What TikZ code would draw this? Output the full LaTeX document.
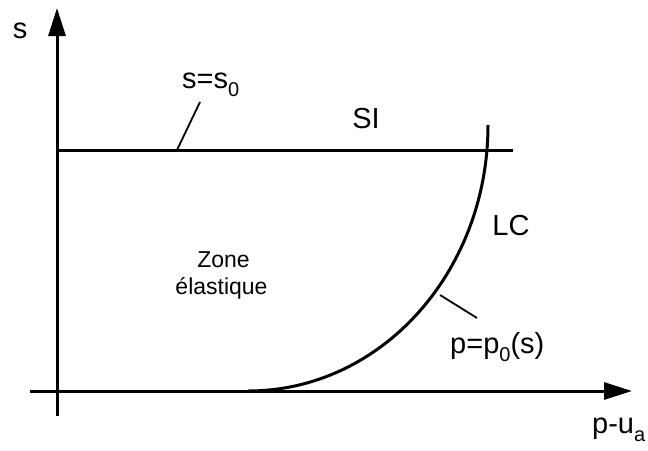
\documentclass[tikz,border=0pt]{standalone}
\usepackage{fontspec}
\setmainfont{Liberation Sans}
\usepackage{tikz}
\usetikzlibrary{arrows.meta}
\newcommand{\sbs}[1]{\raisebox{-8pt}{\fontsize{20}{20}\selectfont #1}}

\begin{document}
\begin{tikzpicture}[x=1pt, y=-1pt, every node/.style={font=\fontsize{29}{34}\selectfont, inner sep=0pt},
  axe/.style={line width=3pt, -{Triangle[length=28pt, width=17pt]}},
  trait/.style={line width=3pt},
  renvoi/.style={line width=1.8pt}]
\useasboundingbox (0,0) rectangle (648,450);
% axes
\coordinate (xdeb) at (30,391);
\coordinate (xfin) at (632,391);
\coordinate (ydeb) at (57,416);
\coordinate (yfin) at (57,8);
\draw[axe] (xdeb) -- (xfin);
\draw[axe] (ydeb) -- (yfin);
% s = s0 et LC
\coordinate (si0) at (57,150);
\coordinate (si1) at (513,150);
\coordinate (lc0) at (248,391);
\coordinate (lc1) at (488,125);
\draw[trait] (si0) -- (si1);
\draw[trait] (lc0) .. controls (381,391) and (488,272) .. (lc1);
% textes
\node[anchor=base] (s) at (20,38) {s};
\node[anchor=base west] (ss0) at (182,88) {s=s\sbs{0}};
\node[anchor=base] (si) at (366,128) {SI};
\node[anchor=base] (lc) at (511,235) {LC};
\node[anchor=base west] (pp0) at (450,353) {p=p\sbs{0}(s)};
\node[anchor=base west] (pu) at (592,433) {p-u\sbs{a}};
\node[anchor=base, font=\fontsize{23}{27}\selectfont] (zone) at (223.5,267) {Zone};
\node[anchor=base, font=\fontsize{23}{27}\selectfont] (elas) at (221.5,294) {élastique};
% renvois
\coordinate (r1a) at (177,150);
\coordinate (r1b) at (200,102);
\coordinate (r2a) at (440,295);
\coordinate (r2b) at (477,318);
\draw[renvoi] (r1a) -- (r1b);
\draw[renvoi] (r2a) -- (r2b);
\end{tikzpicture}
\end{document}
